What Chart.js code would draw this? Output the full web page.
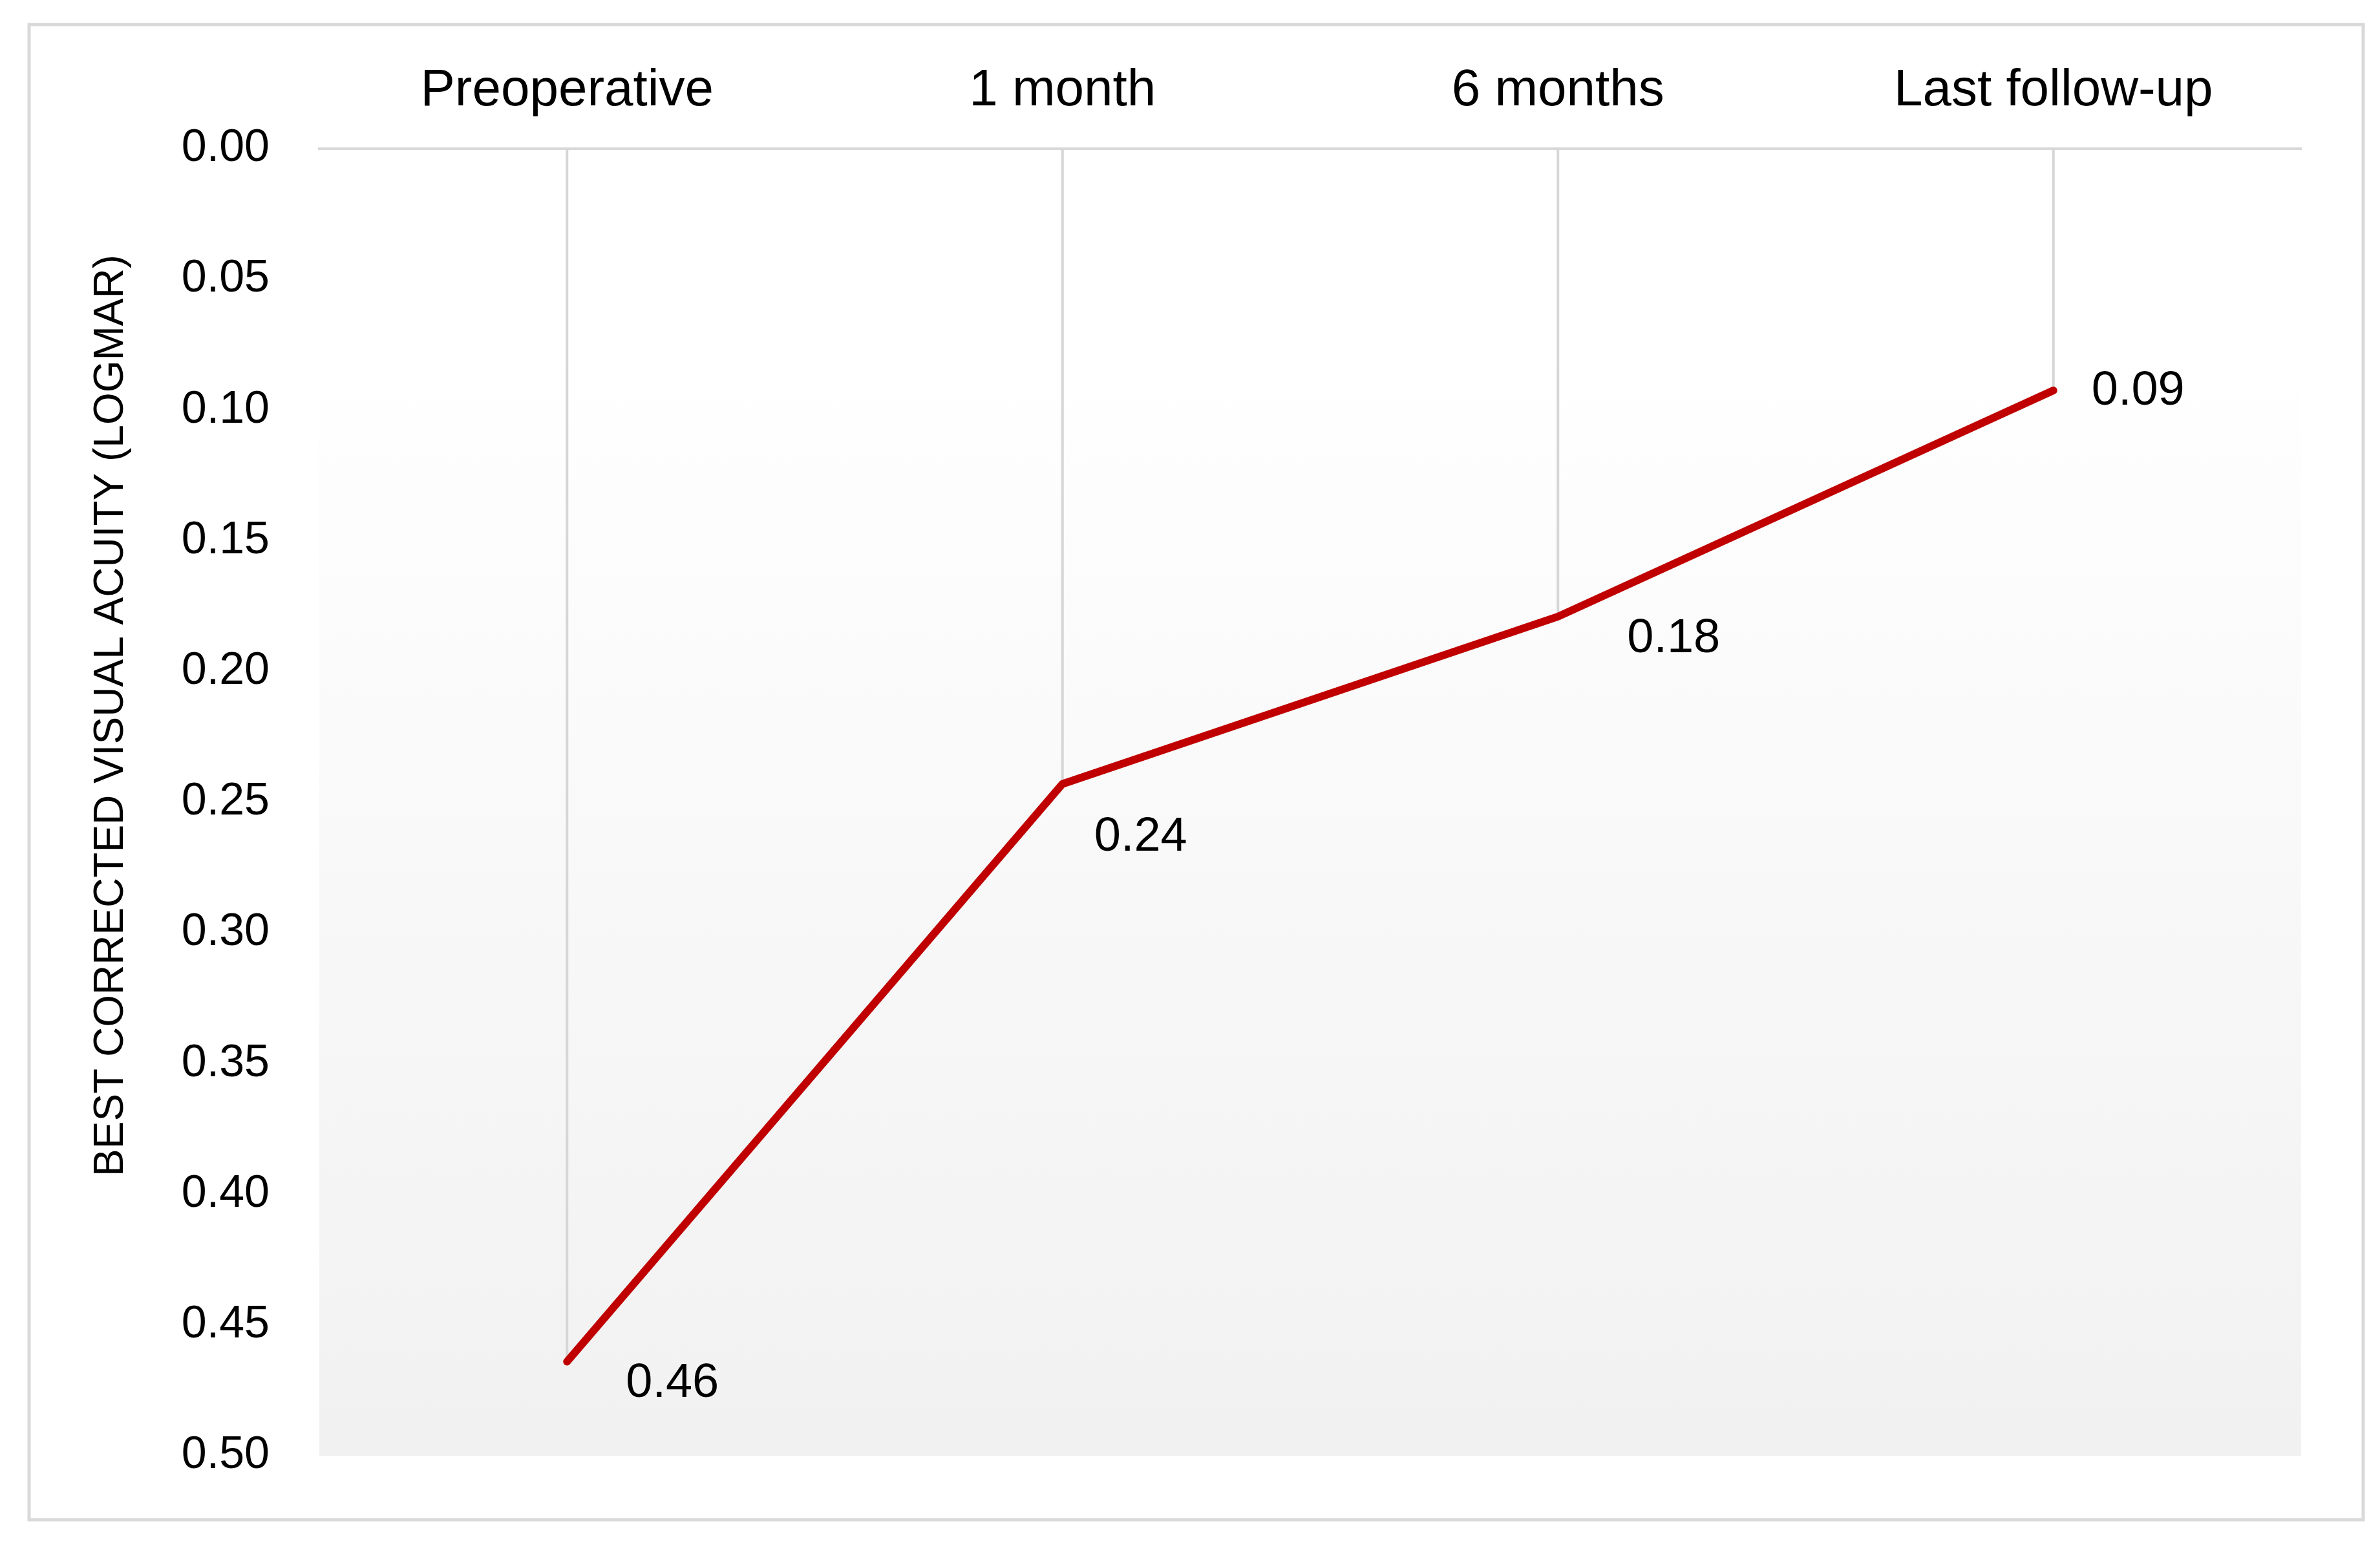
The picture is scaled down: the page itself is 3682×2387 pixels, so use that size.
<!DOCTYPE html>
<html>
<head>
<meta charset="utf-8">
<title>Best corrected visual acuity</title>
<script src="https://cdn.jsdelivr.net/npm/chart.js@4/dist/chart.umd.min.js"></script>
<style>
  body { margin: 0; background: #ffffff; }
  canvas { display: block; }
</style>
</head>
<body>
<canvas id="myChart" width="3682" height="2387"></canvas>
<script>
// visit names along the top axis
const visits = ['Preoperative', '1 month', '6 months', 'Last follow-up'];
// mean BCVA in logMAR
const bcva = [0.464, 0.243, 0.179, 0.0925];
// the value labels printed next to each point
const bcvaLabels = ['0.46', '0.24', '0.18', '0.09'];
// y axis range and step
const yMin = 0;
const yMax = 0.5;
const yStep = 0.05;
const yTitle = 'BEST CORRECTED VISUAL ACUITY (LOGMAR)';

const font = "'Liberation Sans', Arial, sans-serif";

// plot background, outer frame and drop lines from the top axis
const decorations = {
  id: 'decorations',
  beforeDraw(chart) {
    const c = chart.ctx;
    const a = chart.chartArea;
    c.save();
    c.fillStyle = '#ffffff';
    c.fillRect(0, 0, chart.width, chart.height);
    const grad = c.createLinearGradient(0, a.top, 0, a.bottom);
    grad.addColorStop(0, '#ffffff');
    grad.addColorStop(0.15, '#ffffff');
    grad.addColorStop(1, '#f1f1f1');
    c.fillStyle = grad;
    c.fillRect(a.left, a.top, a.right - a.left, a.bottom - a.top);
    // outer frame
    c.strokeStyle = '#d9d9d9';
    c.lineWidth = 5;
    c.strokeRect(45, 38, 3611, 2313);
    c.restore();
  },
  beforeDatasetsDraw(chart) {
    const c = chart.ctx;
    const meta = chart.getDatasetMeta(0);
    c.save();
    c.strokeStyle = '#d6d6d6';
    c.lineWidth = 4;
    meta.data.forEach((pt) => {
      c.beginPath();
      c.moveTo(pt.x, chart.chartArea.top);
      c.lineTo(pt.x, pt.y);
      c.stroke();
    });
    c.restore();
  },
  afterDraw(chart) {
    const c = chart.ctx;
    // rotated axis title
    c.save();
    c.translate(172, 1107);
    c.rotate(-Math.PI / 2);
    c.fillStyle = '#000000';
    c.font = '64px ' + font;
    c.textAlign = 'center';
    c.textBaseline = 'middle';
    c.fillText(yTitle, 0, 0);
    c.restore();
  }
};

// value labels beside the points
const labelOffsets = [[91, 34], [49, 83], [107, 35], [59, 2]];
const valueLabels = {
  id: 'valueLabels',
  afterDatasetsDraw(chart) {
    const c = chart.ctx;
    const meta = chart.getDatasetMeta(0);
    c.save();
    c.fillStyle = '#000000';
    c.font = '74px ' + font;
    c.textAlign = 'left';
    c.textBaseline = 'middle';
    meta.data.forEach((pt, i) => {
      c.fillText(bcvaLabels[i], pt.x + labelOffsets[i][0], pt.y + labelOffsets[i][1]);
    });
    c.restore();
  }
};

const ctx = document.getElementById('myChart').getContext('2d');
const myChart = new Chart(ctx, {
  type: 'line',
  data: {
    labels: visits,
    datasets: [{
      label: 'BCVA',
      data: bcva,
      borderColor: '#c00000',
      backgroundColor: '#c00000',
      borderWidth: 12,
      borderCapStyle: 'round',
      borderJoinStyle: 'round',
      pointRadius: 0,
      tension: 0,
      fill: false
    }]
  },
  options: {
    responsive: false,
    animation: false,
    devicePixelRatio: 1,
    layout: {
      padding: { left: 0, top: 0, right: 122, bottom: 135 }
    },
    plugins: {
      legend: { display: false },
      tooltip: { enabled: false }
    },
    scales: {
      x: {
        position: 'top',
        offset: true,
        grid: { display: false, drawTicks: false },
        border: { display: true, color: '#d9d9d9', width: 4 },
        ticks: {
          color: '#000000',
          padding: 41,
          maxRotation: 0,
          font: { family: font, size: 80 }
        },
        afterFit: (scale) => { scale.height = 230; }
      },
      y: {
        reverse: true,
        min: yMin,
        max: yMax,
        grid: { display: false, drawTicks: false },
        border: { display: false },
        ticks: {
          stepSize: yStep,
          color: '#000000',
          padding: 77,
          font: { family: font, size: 70 },
          callback: (value) => value.toFixed(2)
        },
        afterFit: (scale) => { scale.width = 494; }
      }
    }
  },
  plugins: [decorations, valueLabels]
});
</script>
</body>
</html>
